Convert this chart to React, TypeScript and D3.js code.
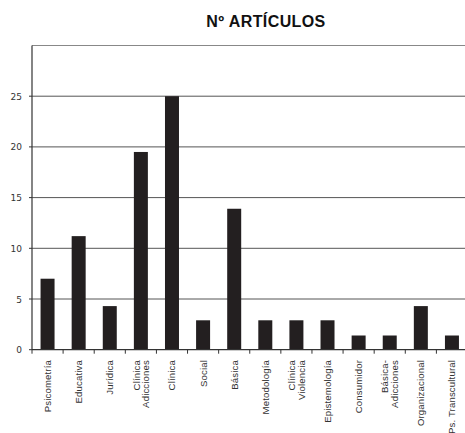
import React from "react";
import * as d3 from "d3";

const categories: string[][] = [
  ["Psicometría"],
  ["Educativa"],
  ["Jurídica"],
  ["Clínica", "Adicciones"],
  ["Clínica"],
  ["Social"],
  ["Básica"],
  ["Metodología"],
  ["Clínica", "Violencia"],
  ["Epistemología"],
  ["Consumidor"],
  ["Básica-", "Adicciones"],
  ["Organizacional"],
  ["Ps. Transcultural"],
];
const values: number[] = [7, 11.2, 4.3, 19.5, 25, 2.9, 13.9, 2.9, 2.9, 2.9, 1.4, 1.4, 4.3, 1.4];
const yTicks: number[] = [0, 5, 10, 15, 20, 25];
const gridTicks: number[] = [5, 10, 15, 20, 25, 30];
const title = "Nº ARTÍCULOS";

const W = 465;
const H = 433;
const left = 32;
const right = 467.5;
const top = 45.5;
const bottom = 349.7;

export default function App() {
  const x = d3.scaleBand<number>().domain(d3.range(categories.length)).range([left, right]).paddingInner(0.55).paddingOuter(0.275);
  const xb = d3.scaleBand<number>().domain(d3.range(categories.length)).range([left, right]);
  const y = d3.scaleLinear().domain([0, 30]).range([bottom, top]);
  const font = "'Liberation Sans', Arial, sans-serif";
  return (
    <svg width={W} height={H} style={{ position: "absolute", left: 0, top: 0, background: "#fff" }}>
      <text x={266} y={27} textAnchor="middle" fontFamily={font} fontWeight="bold" fontSize={16} letterSpacing={0.4} fill="#111">
        {title}
      </text>
      {gridTicks.map((t) => (
        <line key={"g" + t} x1={left} x2={W} y1={y(t)} y2={y(t)} stroke={t === 30 ? "#888" : "#555"} strokeWidth={1} />
      ))}
      {yTicks.map((t) => (
        <g key={"y" + t}>
          <line x1={left - 3} x2={left} y1={y(t)} y2={y(t)} stroke="#333" />
          <text x={22} y={y(t) + 3.5} textAnchor="end" fontFamily="'DejaVu Sans', sans-serif" fontSize={9} fill="#333">
            {t}
          </text>
        </g>
      ))}
      {values.map((v, i) => (
        <rect key={"b" + i} x={x(i)} y={y(v)} width={x.bandwidth()} height={bottom - y(v)} fill="#231f20" />
      ))}
      <line x1={left} x2={left} y1={top} y2={bottom} stroke="#333" strokeWidth={1.2} />
      <line x1={left} x2={W} y1={bottom} y2={bottom} stroke="#333" strokeWidth={1.2} />
      {d3.range(categories.length).map((i) => (
        <line key={"t" + i} x1={xb(i)!} x2={xb(i)!} y1={bottom} y2={bottom + 4} stroke="#333" />
      ))}
      {categories.map((lines, i) => {
        const cx = xb(i)! + xb.bandwidth() / 2;
        const n = lines.length;
        return lines.map((l, j) => {
          const lx = cx + (j - (n - 1) / 2) * 9.5 + 3.5;
          return (
            <text
              key={"c" + i + j}
              transform={`translate(${lx},${360}) rotate(-90)`}
              textAnchor="end"
              fontFamily={font}
              fontSize={9.6}
              letterSpacing={0.15}
              fill="#333"
            >
              {l}
            </text>
          );
        });
      })}
    </svg>
  );
}
